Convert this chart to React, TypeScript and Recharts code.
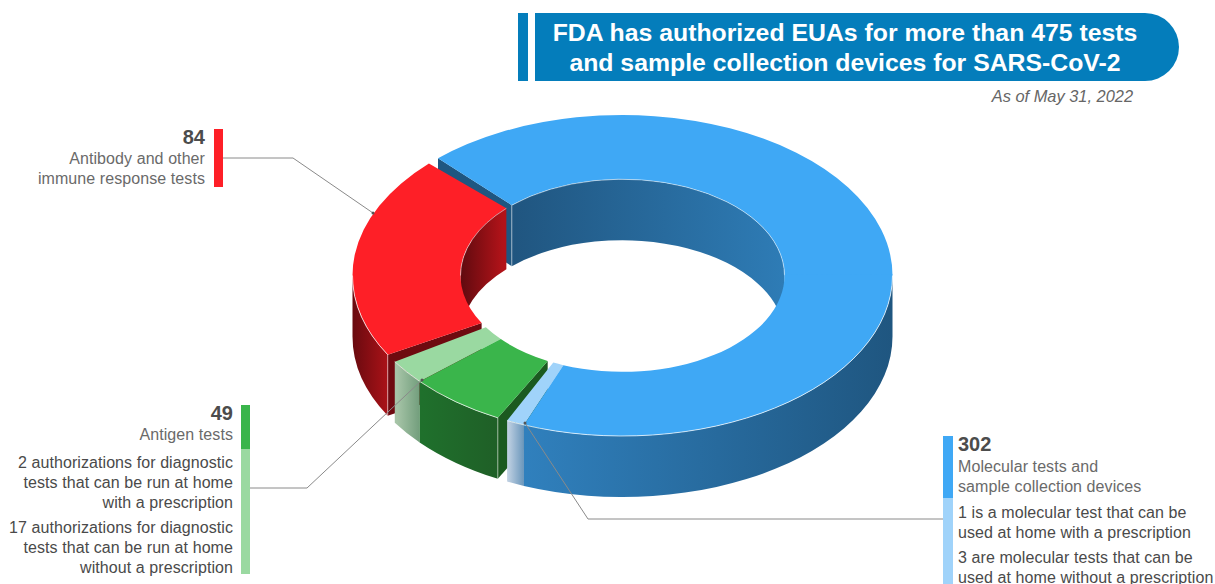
import React from 'react';
import { PieChart, Pie } from 'recharts';

// Ring order, counter-clockwise from the right-hand edge of the donut. Arc sizes are
// read off the picture in degrees: the drawing is not strictly to scale with its labels
// (the antigen arc is narrower than 49 of 435 would be), and gap rows are the slits.
// The molecular arc has two rows so that its back half paints under the red slice
// and its front half over the green one.
const sliceNames = ['molecularBack', 'gapA', 'antibody', 'gapB', 'antigenHome', 'antigen', 'gapC', 'molecularHome', 'molecularFront'];
const sliceArcs = [133.1, 2.7, 73.8, 2.9, 8.8, 21.2, 2.2, 3.9, 111.4];

const titleLines = ['FDA has authorized EUAs for more than 475 tests', 'and sample collection devices for SARS-CoV-2'];
const antibodyLines = ['Antibody and other', 'immune response tests'];
const antigenLines = ['Antigen tests'];
const antigenHomeA = ['2 authorizations for diagnostic', 'tests that can be run at home', 'with a prescription'];
const antigenHomeB = ['17 authorizations for diagnostic', 'tests that can be run at home', 'without a prescription'];
const molecularLines = ['Molecular tests and', 'sample collection devices'];
const molecularHomeA = ['1 is a molecular test that can be', 'used at home with a prescription'];
const molecularHomeB = ['3 are molecular tests that can be', 'used at home without a prescription'];

const sliceData = sliceNames.map((name, i) => ({ name, value: sliceArcs[i] }));

const SQUASH = 160.5 / 270;
const DEPTH = 61;
const FONT = '"Liberation Sans", Arial, sans-serif';

type Wall = { x0: number; x1: number; c0: string; c1: string };
type Look = { top: string; outer: Wall; inner?: Wall; face?: string; overlap?: number };

const blueOuter = { x0: 525, x1: 893, c0: '#3080bd', c1: '#1f5680' };

const looks: Record<string, Look> = {
  molecularBack: {
    top: '#3fa8f5',
    outer: blueOuter,
    inner: { x0: 510, x1: 785, c0: '#20557f', c1: '#2e7cb6' },
    face: '#1f5680',
  },
  molecularFront: { top: '#3fa8f5', outer: blueOuter, overlap: 0.4 },
  molecularHome: {
    top: '#a0d3fa',
    outer: { x0: 508, x1: 526, c0: '#bfd0e2', c1: '#5f8fb6' },
  },
  antibody: {
    top: '#fe1f27',
    outer: { x0: 352, x1: 392, c0: '#680a0f', c1: '#b21319' },
    inner: { x0: 460, x1: 503, c0: '#5f0a0f', c1: '#b21319' },
    face: '#6e0a10',
  },
  antigen: {
    top: '#3ab54b',
    outer: { x0: 422, x1: 499, c0: '#1f702c', c1: '#1f5f27' },
    face: '#1b5a20',
  },
  antigenHome: {
    top: '#9ad9a1',
    outer: { x0: 397, x1: 422, c0: '#a6c4a7', c1: '#6d9a78' },
  },
};

// parts of [a0, a1] inside the half turn that starts at `from`
function visibleRanges(a0: number, a1: number, from: number) {
  const out: Array<[number, number]> = [];
  for (let k = -2; k <= 2; k++) {
    const lo = Math.max(a0, from + 360 * k);
    const hi = Math.min(a1, from + 180 + 360 * k);
    if (hi > lo) out.push([lo, hi]);
  }
  return out;
}

function DonutSlice(props: any) {
  const name = props.name ?? props.payload?.name;
  const look = looks[name];
  if (!look) return <g />;
  const { cx, cy, innerRadius: ri, outerRadius: ro, startAngle: a0, endAngle: a1 } = props;

  const pt = (r: number, a: number, dy = 0) => {
    const t = (a * Math.PI) / 180;
    return `${(cx + r * Math.cos(t)).toFixed(2)} ${(cy - r * SQUASH * Math.sin(t) + dy).toFixed(2)}`;
  };
  const arc = (r: number, from: number, to: number, dy = 0) =>
    `A ${r} ${r * SQUASH} 0 ${Math.abs(to - from) > 180 ? 1 : 0} ${to > from ? 0 : 1} ${pt(r, to, dy)}`;
  const wall = (r: number, from: number, to: number) =>
    `M ${pt(r, from)} ${arc(r, from, to)} L ${pt(r, to, DEPTH)} ${arc(r, to, from, DEPTH)} Z`;
  const edge = (r: number, from: number, to: number) => `M ${pt(r, from)} ${arc(r, from, to)}`;

  const front = visibleRanges(a0, a1, 180);
  const back = visibleRanges(a0, a1, 0);
  const gradient = (id: string, w: Wall) => (
    <linearGradient id={id} gradientUnits="userSpaceOnUse" x1={w.x0} x2={w.x1} y1={0} y2={0}>
      <stop offset="0%" stopColor={w.c0} />
      <stop offset="100%" stopColor={w.c1} />
    </linearGradient>
  );
  const outerId = `outer-${name}`;
  const innerId = `inner-${name}`;
  const endInFront = front.some(([lo, hi]) => a1 >= lo && a1 <= hi);
  const cornerR = endInFront ? ro : ri;
  const topEnd = a1 + (look.overlap ?? 0);

  return (
    <g>
      <defs>
        {gradient(outerId, look.outer)}
        {look.inner && gradient(innerId, look.inner)}
      </defs>
      {look.inner && back.map(([lo, hi]) => <path key={lo} d={wall(ri, lo, hi)} fill={`url(#${innerId})`} />)}
      {look.face && (
        <path
          d={`M ${pt(ri, a1)} L ${pt(ro, a1)} L ${pt(ro, a1, DEPTH)} L ${pt(ri, a1, DEPTH)} Z`}
          fill={look.face}
        />
      )}
      {front.map(([lo, hi]) => <path key={lo} d={wall(ro, lo, hi)} fill={`url(#${outerId})`} />)}
      <path
        d={`M ${pt(ro, a0)} ${arc(ro, a0, topEnd)} L ${pt(ri, topEnd)} ${arc(ri, topEnd, a0)} Z`}
        fill={look.top}
      />
      {front.map(([lo, hi]) => (
        <path key={lo} d={edge(ro, lo, hi)} fill="none" stroke="#fff" strokeOpacity={0.7} strokeWidth={1} />
      ))}
      {back.map(([lo, hi]) => (
        <path key={lo} d={edge(ri, lo, hi)} fill="none" stroke="#fff" strokeOpacity={0.5} strokeWidth={1} />
      ))}
      {look.face && (
        <path d={`M ${pt(cornerR, a1)} L ${pt(cornerR, a1, DEPTH)}`} stroke="#fff" strokeOpacity={0.5} strokeWidth={1} />
      )}
    </g>
  );
}

function TextBlock({ lines, x, y, align, color = '#4a4a4a' }: { lines: string[]; x: number; y: number; align: 'left' | 'right'; color?: string }) {
  const place = align === 'left' ? { left: x } : { right: 1215 - x };
  return (
    <div style={{ position: 'absolute', top: y, ...place, textAlign: align, font: `16px/20px ${FONT}`, letterSpacing: 0.08, color, whiteSpace: 'nowrap' }}>
      {lines.map((l) => <div key={l}>{l}</div>)}
    </div>
  );
}

function Count({ text, x, y, align }: { text: string; x: number; y: number; align: 'left' | 'right' }) {
  const place = align === 'left' ? { left: x } : { right: 1215 - x };
  return (
    <div style={{ position: 'absolute', top: y, ...place, font: `bold 20px/24px ${FONT}`, color: '#4c4c4c' }}>{text}</div>
  );
}

function Bar({ x, y, w, h, color }: { x: number; y: number; w: number; h: number; color: string }) {
  return <div style={{ position: 'absolute', left: x, top: y, width: w, height: h, background: color }} />;
}

export default function App() {
  return (
    <div style={{ position: 'absolute', left: 0, top: 0, width: 1215, height: 584, overflow: 'hidden', background: '#fff' }}>
      <Bar x={518} y={13} w={10} h={68} color="#047dbb" />
      <div style={{ position: 'absolute', left: 535, top: 13, width: 644, height: 68, background: '#047dbb', borderRadius: '0 34px 34px 0' }} />
      <div style={{ position: 'absolute', left: 535, top: 18, width: 620, textAlign: 'center', font: `bold 24.8px/30px ${FONT}`, color: '#fff', whiteSpace: 'nowrap' }}>
        {titleLines.map((l) => <div key={l}>{l}</div>)}
      </div>
      <div style={{ position: 'absolute', right: 82, top: 87, font: `italic 16.4px/18px ${FONT}`, color: '#666' }}>As of May 31, 2022</div>

      <div style={{ position: 'absolute', left: 0, top: 0 }}>
        <PieChart width={1215} height={584} margin={{ top: 0, right: 0, bottom: 0, left: 0 }}>
          <Pie
            data={sliceData}
            dataKey="value"
            nameKey="name"
            cx={622.5}
            cy={275.5}
            innerRadius={162}
            outerRadius={270}
            startAngle={0}
            endAngle={360}
            paddingAngle={0}
            stroke="none"
            isAnimationActive={false}
            shape={DonutSlice}
          />
        </PieChart>
      </div>

      <svg width={1215} height={584} style={{ position: 'absolute', left: 0, top: 0, pointerEvents: 'none' }}>
        <g fill="none" stroke="#8a8a8a" strokeWidth={1}>
          <polyline points="223,158 293,158 373,213" />
          <polyline points="250,488 307,488 422,380" />
          <polyline points="943,519 588,519 525,423" />
        </g>
        <g fill="#555">
          <circle cx={373} cy={213} r={1.5} />
          <circle cx={422} cy={380} r={1.5} />
          <circle cx={525} cy={423} r={1.5} />
        </g>
      </svg>

      <Bar x={214} y={129} w={9} h={58} color="#fe1f27" />
      <Count text="84" x={205} y={125} align="right" />
      <TextBlock lines={antibodyLines} x={205} y={149} align="right" color="#6a6a6a" />

      <Bar x={241} y={405} w={9} h={44} color="#3ab54b" />
      <Bar x={241} y={449} w={9} h={125} color="#9ad9a1" />
      <Count text="49" x={233} y={401} align="right" />
      <TextBlock lines={antigenLines} x={233} y={425} align="right" color="#6a6a6a" />
      <TextBlock lines={antigenHomeA} x={233} y={453} align="right" />
      <TextBlock lines={antigenHomeB} x={233} y={518} align="right" />

      <Bar x={943} y={436} w={10} h={62} color="#3fa8f5" />
      <Bar x={943} y={498} w={10} h={86} color="#a0d3fa" />
      <Count text="302" x={958} y={432} align="left" />
      <TextBlock lines={molecularLines} x={958} y={457} align="left" color="#6a6a6a" />
      <TextBlock lines={molecularHomeA} x={958} y={503} align="left" />
      <TextBlock lines={molecularHomeB} x={958} y={548} align="left" />
    </div>
  );
}
